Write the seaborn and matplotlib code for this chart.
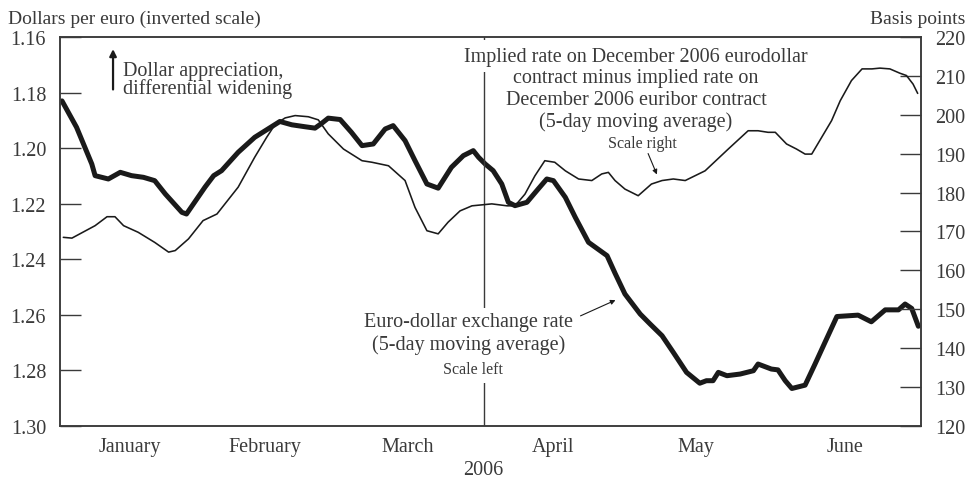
import numpy as np
import pandas as pd
import matplotlib
matplotlib.use("Agg")
import matplotlib.pyplot as plt
import seaborn as sns

# Euro-dollar exchange rate, 5-day moving average (trading day, dollars per euro)
fx_day = [0.3, 2.5, 4.8, 5.3, 7.3, 9.1, 10.8, 12.6, 14.3, 15.9, 18.4, 19.1, 21.9,
          23.2, 24.4, 26.9, 29.4, 31.0, 33.2, 35.0, 37.0, 38.5, 39.5, 40.5, 42.3,
          44.0, 45.6, 47.3, 49.1, 50.3, 52.1, 53.6, 55.4, 57.1, 59.1, 60.9, 62.4,
          63.2, 64.2, 65.4, 66.7, 67.7, 68.7, 70.5, 72.2, 73.5, 74.5, 76.3, 77.8,
          79.8, 82.6, 83.8, 85.3, 87.6, 89.1, 90.9, 92.6, 94.6, 96.6, 97.6, 98.6,
          99.4, 100.7, 102.7, 104.7, 105.4, 107.4, 108.4, 109.5, 110.5, 112.5,
          114.0, 115.5, 117.3, 120.5, 122.5, 124.6, 126.6, 127.6, 128.6, 129.6]
fx_rate = [1.1830, 1.1925, 1.2057, 1.2099, 1.2111, 1.2087, 1.2099, 1.2105, 1.2117,
           1.2165, 1.2231, 1.2237, 1.2140, 1.2099, 1.2081, 1.2015, 1.1961, 1.1937,
           1.1904, 1.1916, 1.1923, 1.1928, 1.1911, 1.1892, 1.1897, 1.1943, 1.1991,
           1.1985, 1.1931, 1.1919, 1.1973, 1.2045, 1.2129, 1.2144, 1.2069, 1.2027,
           1.2009, 1.2033, 1.2057, 1.2081, 1.2129, 1.2195, 1.2207, 1.2195, 1.2147,
           1.2111, 1.2117, 1.2177, 1.2249, 1.2339, 1.2387, 1.2450, 1.2525, 1.2597,
           1.2633, 1.2675, 1.2735, 1.2807, 1.2846, 1.2837, 1.2837, 1.2807, 1.2819,
           1.2813, 1.2801, 1.2777, 1.2795, 1.2798, 1.2837, 1.2865, 1.2853, 1.2777,
           1.2699, 1.2606, 1.2601, 1.2625, 1.2582, 1.2582, 1.2561, 1.2577, 1.2641]

# Eurodollar minus euribor implied rate, Dec 2006 contracts (basis points)
spread_day = [0.5, 1.8, 5.3, 7.1, 8.3, 9.6, 11.8, 14.3, 16.4, 17.4, 19.4, 21.6, 23.7,
              26.9, 29.4, 31.2, 32.5, 34.0, 35.5, 37.5, 39.0, 40.5, 42.8, 45.6, 47.1,
              49.6, 52.1, 53.6, 55.4, 57.1, 58.6, 60.4, 62.2, 65.2, 67.5, 68.7, 70.2,
              71.7, 73.2, 74.7, 76.3, 78.3, 80.3, 81.8, 82.8, 83.8, 85.3, 87.3, 89.3,
              90.9, 92.6, 94.4, 97.4, 100.9, 103.9, 105.4, 106.9, 108.0, 109.7, 111.2,
              112.5, 113.5, 115.0, 116.5, 117.8, 119.5, 121.1, 122.6, 123.8, 125.3,
              126.8, 127.8, 128.8, 129.5]
spread_bp = [168.5, 168.3, 171.5, 173.8, 173.8, 171.5, 169.8, 167.2, 164.7, 165.1,
             168.1, 172.8, 174.5, 181.4, 189.1, 194.2, 197.6, 199.2, 199.8, 199.5,
             198.7, 195.1, 191.2, 188.2, 187.8, 186.9, 183.1, 176.2, 170.2, 169.4,
             172.4, 175.3, 176.6, 177.1, 176.6, 176.6, 179.6, 184.3, 188.2, 187.8,
             185.6, 183.5, 183.1, 184.8, 185.2, 183.1, 180.9, 179.2, 182.2, 183.1,
             183.5, 183.1, 185.6, 191.2, 195.9, 195.9, 195.5, 195.5, 192.5, 191.2,
             189.9, 189.9, 194.2, 198.5, 203.6, 208.8, 211.8, 211.8, 212.0, 211.8,
             210.7, 210.1, 207.9, 205.5]

months = ["January", "February", "March", "April", "May", "June"]
month_edges = [0, 21, 41, 64, 85, 107, 130]
left_ticks = [1.16, 1.18, 1.20, 1.22, 1.24, 1.26, 1.28, 1.30]
right_ticks = [120, 130, 140, 150, 160, 170, 180, 190, 200, 210, 220]

fx = pd.DataFrame({"day": fx_day, "rate": fx_rate})
spread = pd.DataFrame({"day": spread_day, "bp": spread_bp})

sns.set_style("white")
plt.rcParams["font.family"] = ["Liberation Serif", "DejaVu Serif"]
ink = "#1a1a1a"
grey = "#3a3a3a"
fs = 14.5   # main text size
fs_small = 11.5

fig = plt.figure(figsize=(9.7, 4.85), dpi=100)
ax = fig.add_axes([60 / 970, 1 - 427 / 485, 861 / 970, 389 / 485])
ax2 = ax.twinx()

sns.lineplot(data=fx, x="day", y="rate", ax=ax, color=ink, linewidth=3.6)
sns.lineplot(data=spread, x="day", y="bp", ax=ax2, color=ink, linewidth=1.15)

ax.set_xlim(month_edges[0], month_edges[-1])
ax.set_ylim(1.30, 1.16)   # inverted scale
ax2.set_ylim(120, 220)

ax.set_xlabel("")
ax.set_ylabel("")
ax2.set_ylabel("")

ax.set_yticks(left_ticks)
ax.set_yticklabels([f"{v:.2f}" for v in left_ticks])
ax2.set_yticks(right_ticks)
ax2.set_yticklabels([str(v) for v in right_ticks])

# month boundaries as small inward ticks, month names centred in between
centers = [(a + b) / 2 for a, b in zip(month_edges[:-1], month_edges[1:])]
ax.set_xticks(month_edges)
ax.set_xticklabels([""] * len(month_edges))
ax.set_xticks(centers, minor=True)
ax.set_xticklabels(months, minor=True)
ax.tick_params(axis="x", which="major", direction="in", length=6.5, width=1.0, color=grey)
ax.tick_params(axis="x", which="minor", length=0, pad=8, labelsize=fs, labelcolor=grey)
ax.tick_params(axis="y", direction="in", length=15, width=1.0, color=grey,
               pad=10, labelsize=fs, labelcolor=grey)
ax2.tick_params(axis="y", direction="in", length=15, width=1.0, color=grey,
                pad=10, labelsize=fs, labelcolor=grey)

for a in (ax, ax2):
    for s in a.spines.values():
        s.set_visible(True)
        s.set_color(grey)
        s.set_linewidth(1.1)

# vertical line at the start of April
ax2.axvline(month_edges[3], color=grey, lw=1.0, zorder=1)

ax2.text(0.669, 0.951, "Implied rate on December 2006 eurodollar", transform=ax2.transAxes,
         ha="center", va="center", fontsize=fs, color=grey,
         bbox=dict(facecolor="white", edgecolor="none", pad=5), zorder=5)
ax2.text(0.669, 0.839, "contract minus implied rate on\nDecember 2006 euribor contract\n"
         "(5-day moving average)", transform=ax2.transAxes, ha="center", va="center",
         fontsize=fs, color=grey, linespacing=1.2, zorder=5)
ax2.text(0.676, 0.728, "Scale right", transform=ax2.transAxes, ha="center", va="center",
         fontsize=fs_small, color=grey, zorder=5)
ax2.annotate("", xy=(0.6945, 0.640), xytext=(0.6818, 0.707), xycoords="axes fraction",
             arrowprops=dict(arrowstyle="-|>", color=ink, lw=0.8, mutation_scale=7))

ax2.text(0.475, 0.2385, "Euro-dollar exchange rate\n(5-day moving average)",
         transform=ax2.transAxes, ha="center", va="center", fontsize=fs, color=grey,
         linespacing=1.2, bbox=dict(facecolor="white", edgecolor="none", pad=3), zorder=5)
ax2.text(0.4797, 0.1465, "Scale left", transform=ax2.transAxes, ha="center", va="center",
         fontsize=fs_small, color=grey, bbox=dict(facecolor="white", edgecolor="none", pad=4),
         zorder=5)
ax2.annotate("", xy=(0.6481, 0.3265), xytext=(0.6016, 0.2802), xycoords="axes fraction",
             arrowprops=dict(arrowstyle="-|>", color=ink, lw=0.8, mutation_scale=7))

ax2.annotate("", xy=(0.0616, 0.976), xytext=(0.0616, 0.858), xycoords="axes fraction",
             arrowprops=dict(arrowstyle="-|>", color=ink, lw=1.6, mutation_scale=10))
ax2.text(0.0732, 0.890, "Dollar appreciation,\ndifferential widening", transform=ax2.transAxes,
         ha="left", va="center", fontsize=fs, color=grey, linespacing=0.88)

fig.text(8 / 970, 1 - 19 / 485, "Dollars per euro (inverted scale)", ha="left", va="center",
         fontsize=14, color=grey)
fig.text(965 / 970, 1 - 19 / 485, "Basis points", ha="right", va="center",
         fontsize=14, color=grey)
fig.text(483 / 970, 1 - 471 / 485, "2006", ha="center", va="center", fontsize=fs, color=grey)

fig.savefig("out.png", dpi=100)
